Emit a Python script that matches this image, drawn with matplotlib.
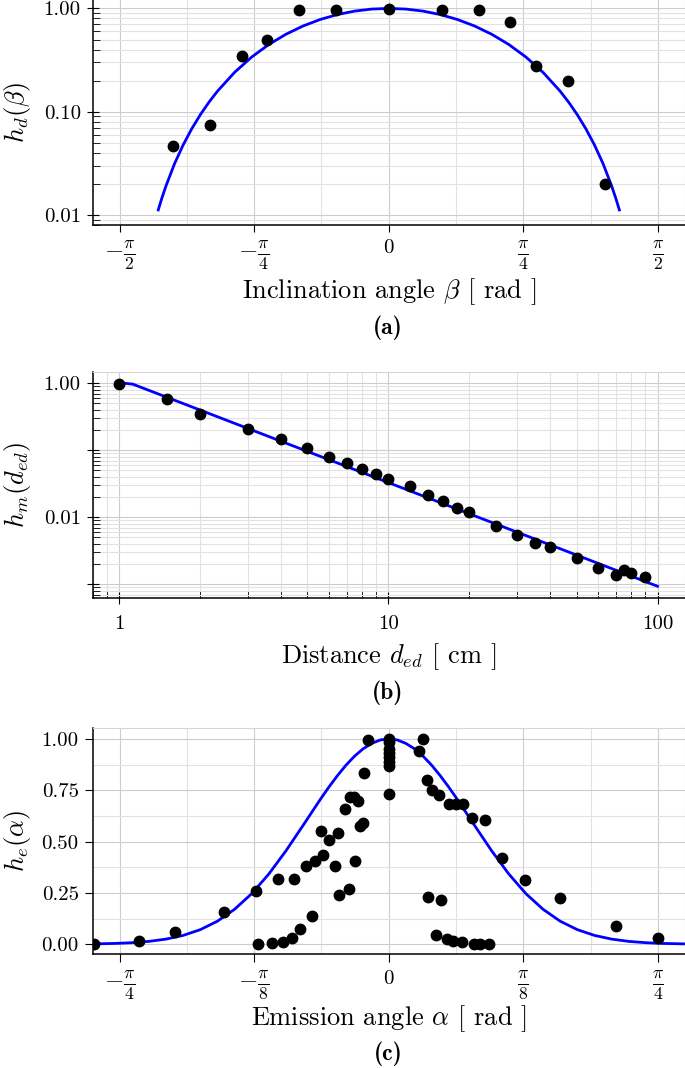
import numpy as np
import matplotlib
matplotlib.use("Agg")
import matplotlib.pyplot as plt
from matplotlib.ticker import NullFormatter, LogLocator

plt.rcParams["font.family"] = "serif"
plt.rcParams["font.serif"] = ["cmr10"]
plt.rcParams["mathtext.fontset"] = "cm"
plt.rcParams["axes.unicode_minus"] = False
plt.rcParams["axes.formatter.use_mathtext"] = True

pi = np.pi

# (a) inclination angle, measured points and fit
beta = [-1.258, -1.044, -0.856, -0.708, -0.522, -0.308, 0.0,
        0.308, 0.525, 0.708, 0.858, 1.046, 1.260]
h_d = [0.047, 0.074, 0.350, 0.500, 0.97, 0.97, 0.98,
       0.97, 0.97, 0.746, 0.275, 0.197, 0.0199]
beta_fit = [-1.345, -1.325, -1.3, -1.25, -1.2, -1.15, -1.1, -1.05, -1.0,
            -0.9, -0.8, -0.7, -0.6, -0.5, -0.4, -0.3, -0.2, -0.1, 0.0,
            0.1, 0.2, 0.3, 0.4, 0.5, 0.6, 0.7, 0.8, 0.9, 1.0,
            1.05, 1.1, 1.15, 1.2, 1.25, 1.3, 1.325, 1.345]
h_d_fit = [0.0112, 0.0144, 0.0191, 0.0314, 0.0476, 0.0682, 0.0933, 0.1232, 0.1577,
           0.2402, 0.3382, 0.4474, 0.5622, 0.6759, 0.7814, 0.8719, 0.9414, 0.9851, 1.0,
           0.9851, 0.9414, 0.8719, 0.7814, 0.6759, 0.5622, 0.4474, 0.3382, 0.2402, 0.1577,
           0.1232, 0.0933, 0.0682, 0.0476, 0.0314, 0.0191, 0.0144, 0.0112]

# (b) distance, measured points and fit
dist = [1, 1.5, 2, 3, 4, 5, 6, 7, 8, 9, 10, 12, 14, 16, 18, 20,
        25, 30, 35, 40, 50, 60, 70, 75, 80, 90]
h_m = [0.97, 0.58, 0.346, 0.211, 0.147, 0.108, 0.0795, 0.0648, 0.0527, 0.0449,
       0.0375, 0.0288, 0.0217, 0.0172, 0.0136, 0.0119, 0.0075, 0.00544, 0.00409,
       0.00357, 0.00245, 0.00176, 0.00138, 0.00164, 0.00148, 0.00127]
dist_fit = [1.0, 1.06, 1.12, 1.2, 2, 5, 10, 20, 50, 100]
h_m_fit = [1.0, 0.995, 0.972, 0.874, 0.397, 0.0961, 0.0329, 0.01125, 0.00273, 0.000933]

# (c) emission angle, measured points and fit
alpha = [-0.860, -0.728, -0.624, -0.480, -0.386, -0.381, -0.342, -0.310, -0.282,
         -0.322, -0.276, -0.260, -0.241, -0.223, -0.214, -0.197, -0.192, -0.175,
         -0.158, -0.148, -0.144, -0.127, -0.117, -0.112, -0.102, -0.099, -0.091,
         -0.085, -0.074, -0.072, -0.062,
         0.0, 0.0, 0.0, 0.0, 0.0, 0.0, 0.0, 0.0,
         0.089, 0.099, 0.112, 0.126, 0.147, 0.175, 0.195, 0.217, 0.244, 0.280,
         0.329, 0.396, 0.499, 0.664, 0.784,
         0.115, 0.151, 0.139, 0.169, 0.188, 0.214, 0.248, 0.267, 0.293]
h_e = [0.000, 0.018, 0.060, 0.156, 0.261, 0.000, 0.005, 0.011, 0.029,
       0.320, 0.317, 0.075, 0.383, 0.136, 0.404, 0.550, 0.436, 0.509,
       0.383, 0.544, 0.239, 0.658, 0.268, 0.716, 0.717, 0.406, 0.698,
       0.578, 0.591, 0.834, 0.994,
       1.0, 0.985, 0.95, 0.93, 0.91, 0.89, 0.87, 0.73,
       0.942, 1.0, 0.800, 0.752, 0.729, 0.682, 0.682, 0.682, 0.615, 0.604,
       0.419, 0.315, 0.227, 0.088, 0.029,
       0.230, 0.217, 0.045, 0.026, 0.018, 0.011, 0.003, 0.003, 0.001]
alpha_fit = [-0.864, -0.8, -0.75, -0.7, -0.65, -0.6, -0.55, -0.5, -0.45, -0.4,
             -0.35, -0.3, -0.25, -0.2, -0.175, -0.15, -0.125, -0.1, -0.075,
             -0.05, -0.025, 0.0, 0.025, 0.05, 0.075, 0.1, 0.125, 0.15, 0.175,
             0.2, 0.25, 0.3, 0.35, 0.4, 0.45, 0.5,
             0.55, 0.6, 0.65, 0.7, 0.75, 0.8, 0.864]
h_e_fit = [0.0015, 0.0037, 0.0073, 0.0137, 0.0248, 0.0428, 0.0708, 0.112, 0.170, 0.246,
           0.342, 0.455, 0.579, 0.705, 0.765, 0.821, 0.872, 0.916, 0.952,
           0.978, 0.995, 1.0, 0.995, 0.978, 0.952, 0.916, 0.872, 0.821, 0.765,
           0.705, 0.579, 0.455, 0.342, 0.246, 0.170, 0.112,
           0.0708, 0.0428, 0.0248, 0.0137, 0.0073, 0.0037, 0.0015]

TICK_FS = 15
FRAC_FS = 18
LABEL_FS = 19
PANEL_FS = 17


def style(ax):
    ax.set_axisbelow(True)
    ax.grid(which="major", color="#cccccc", lw=0.8)
    ax.grid(which="minor", color="#e2e2e2", lw=0.8)
    for s in ["left", "bottom"]:
        ax.spines[s].set_color("black")
        ax.spines[s].set_linewidth(1.1)
    for s in ["top", "right"]:
        ax.spines[s].set_color("#d5d5d5")
        ax.spines[s].set_linewidth(0.8)
    ax.tick_params(labelsize=TICK_FS)


def frac_labels(ax):
    # fractions a bit larger, the plain "0" stays at tick size
    for t in ax.get_xticklabels():
        if t.get_text() != "$0$":
            t.set_fontsize(FRAC_FS)


fig = plt.figure(figsize=(6.85, 10.68), dpi=100)

# ---- (a)
ax = fig.add_axes([0.1352, 0.7893, 0.8648, 0.2117])
style(ax)
ax.plot(beta_fit, h_d_fit, color="blue", lw=2.0, zorder=2)
ax.plot(beta, h_d, "o", color="black", ms=7.5, zorder=3)
ax.set_yscale("log")
ax.set_xlim(-1.728, 1.728)
ax.set_ylim(0.0080, 1.235)
ax.set_yticks([0.01, 0.1, 1], ["0.01", "0.10", "1.00"])
ax.yaxis.set_minor_locator(LogLocator(subs=np.arange(2, 10)))
ax.yaxis.set_minor_formatter(NullFormatter())
ax.set_xticks([-pi / 2, -pi / 4, 0, pi / 4, pi / 2],
              [r"$-\frac{\pi}{2}$", r"$-\frac{\pi}{4}$", r"$0$",
               r"$\frac{\pi}{4}$", r"$\frac{\pi}{2}$"])
frac_labels(ax)
ax.set_xticks([-3 * pi / 8, -pi / 8, pi / 8, 3 * pi / 8], minor=True)
ax.tick_params(axis="x", which="major", direction="out", length=5, pad=5)
ax.tick_params(axis="x", which="minor", length=0)
ax.tick_params(axis="y", which="major", direction="inout", length=9, pad=4)
ax.tick_params(axis="y", which="minor", direction="in", length=5)
ax.set_xlabel(r"Inclination angle $\beta$ [ rad ]", fontsize=LABEL_FS)
ax.set_ylabel(r"$h_d(\beta)$", fontsize=LABEL_FS)
ax.xaxis.set_label_coords(0.5, -0.293)
ax.xaxis.label.set_va("center")
ax.yaxis.set_label_coords(-0.127, 0.5)
ax.yaxis.label.set_va("center")
fig.text(0.5664, 0.6929, "(a)", family="cmb10", ha="center", va="center", fontsize=PANEL_FS)

# ---- (b)
ax = fig.add_axes([0.1352, 0.4404, 0.8648, 0.2110])
style(ax)
ax.plot(dist_fit, h_m_fit, color="blue", lw=2.0, zorder=2)
ax.plot(dist, h_m, "o", color="black", ms=7.5, zorder=3)
ax.set_xscale("log")
ax.set_yscale("log")
ax.set_xlim(0.795, 126.5)
ax.set_ylim(10 ** -3.2, 10 ** 0.164)
ax.set_xticks([1, 10, 100], ["1", "10", "100"])
ax.set_yticks([0.001, 0.01, 0.1, 1], ["", "0.01", "", "1.00"])
ax.xaxis.set_minor_locator(LogLocator(subs=np.arange(2, 10)))
ax.yaxis.set_minor_locator(LogLocator(subs=np.arange(2, 10)))
ax.xaxis.set_minor_formatter(NullFormatter())
ax.yaxis.set_minor_formatter(NullFormatter())
ax.tick_params(axis="both", which="major", direction="inout", length=9, pad=4)
ax.tick_params(axis="x", which="major", pad=8)
ax.tick_params(axis="both", which="minor", direction="in", length=5)
ax.set_xlabel(r"Distance $d_{ed}$ [ cm ]", fontsize=LABEL_FS)
ax.set_ylabel(r"$h_m(d_{ed})$", fontsize=LABEL_FS)
ax.xaxis.set_label_coords(0.5, -0.263)
ax.xaxis.label.set_va("center")
ax.yaxis.set_label_coords(-0.127, 0.5)
ax.yaxis.label.set_va("center")
fig.text(0.5664, 0.3511, "(b)", family="cmb10", ha="center", va="center", fontsize=PANEL_FS)

# ---- (c)
ax = fig.add_axes([0.1352, 0.1065, 0.8648, 0.2116])
style(ax)
ax.plot(alpha_fit, h_e_fit, color="blue", lw=2.0, zorder=2)
ax.plot(alpha, h_e, "o", color="black", ms=7.5, zorder=3)
ax.set_xlim(-0.864, 0.864)
ax.set_ylim(-0.049, 1.052)
ax.set_yticks([0, 0.25, 0.5, 0.75, 1.0], ["0.00", "0.25", "0.50", "0.75", "1.00"])
ax.set_yticks([0.125, 0.375, 0.625, 0.875], minor=True)
ax.set_xticks([-pi / 4, -pi / 8, 0, pi / 8, pi / 4],
              [r"$-\frac{\pi}{4}$", r"$-\frac{\pi}{8}$", r"$0$",
               r"$\frac{\pi}{8}$", r"$\frac{\pi}{4}$"])
frac_labels(ax)
ax.set_xticks([-3 * pi / 16, -pi / 16, pi / 16, 3 * pi / 16], minor=True)
ax.tick_params(axis="both", which="major", direction="out", length=6, pad=4)
ax.tick_params(axis="x", which="major", pad=5)
ax.tick_params(axis="both", which="minor", length=0)
ax.set_xlabel(r"Emission angle $\alpha$ [ rad ]", fontsize=LABEL_FS)
ax.set_ylabel(r"$h_e(\alpha)$", fontsize=LABEL_FS)
ax.xaxis.set_label_coords(0.5, -0.285)
ax.xaxis.label.set_va("center")
ax.yaxis.set_label_coords(-0.127, 0.5)
ax.yaxis.label.set_va("center")
fig.text(0.5664, 0.0130, "(c)", family="cmb10", ha="center", va="center", fontsize=PANEL_FS)

fig.savefig("out.png", dpi=100)
